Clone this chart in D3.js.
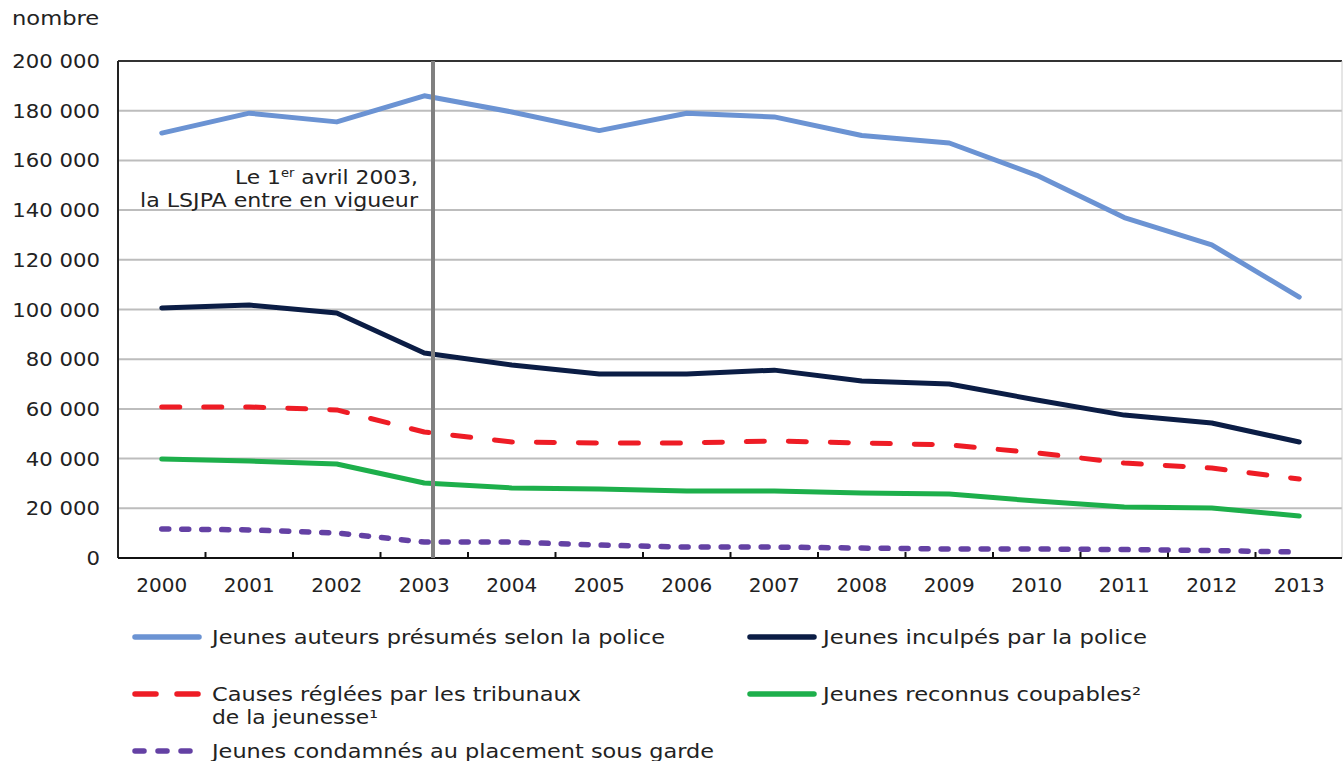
<!DOCTYPE html>
<html>
<head>
<meta charset="utf-8">
<script src="https://cdn.jsdelivr.net/npm/d3@7"></script>
<style>
  html, body { margin: 0; padding: 0; background: #fff; }
  svg { display: block; font-family: "DejaVu Sans", Verdana, sans-serif; }
</style>
</head>
<body>
<svg id="chart" width="1343" height="761"></svg>
<script>
const years = ["2000","2001","2002","2003","2004","2005","2006","2007","2008","2009","2010","2011","2012","2013"];
const yTicks = [0, 20000, 40000, 60000, 80000, 100000, 120000, 140000, 160000, 180000, 200000];

const auteurs   = [171000, 179000, 175500, 186000, 179500, 172000, 179000, 177500, 170000, 167000, 154000, 137000, 126000, 105000];
const inculpes  = [100600, 101800, 98600, 82500, 77700, 74000, 74000, 75600, 71200, 70000, 63600, 57500, 54300, 46700];
const causes    = [60800, 60800, 59600, 50700, 46700, 46300, 46300, 47100, 46300, 45500, 42300, 38200, 36200, 31800];
const coupables = [39800, 39000, 37800, 30200, 28200, 27800, 27000, 27000, 26200, 25800, 22900, 20500, 20100, 16900];
const condamnes = [11700, 11300, 10100, 6400, 6400, 5200, 4400, 4400, 4000, 3600, 3600, 3400, 3000, 2400];

const seriesNames = [
  "Jeunes auteurs présumés selon la police",
  "Jeunes inculpés par la police",
  "Causes réglées par les tribunaux|de la jeunesse¹",
  "Jeunes reconnus coupables²",
  "Jeunes condamnés au placement sous garde"
];
const lsjpaYear = 2003.1;
const annotation = ["Le 1er avril 2003,", "la LSJPA entre en vigueur"];

const series = [
  {name: seriesNames[0], values: auteurs,   color: "#6b93d3", width: 5, dash: null, cap: "round"},
  {name: seriesNames[1], values: inculpes,  color: "#0b1d45", width: 5, dash: null, cap: "round"},
  {name: seriesNames[2], values: causes,    color: "#ee1c25", width: 5, dash: "18,24", cap: "round"},
  {name: seriesNames[3], values: coupables, color: "#1daf4b", width: 5, dash: null, cap: "round"},
  {name: seriesNames[4], values: condamnes, color: "#6441a4", width: 5.5, dash: "7,13", cap: "round"}
];

const svg = d3.select("#chart");
const pL = 118, pR = 1343, pT = 61, pB = 558;

const x = d3.scaleBand().domain(years).range([pL, pR]).paddingInner(0).paddingOuter(0);
const bw = x.bandwidth();
const xc = d => x(d) + bw / 2;
const xNum = v => x("2000") + bw / 2 + (v - 2000) * bw;
const y = d3.scaleLinear().domain([0, 200000]).range([pB, pT]);

// gridlines
svg.append("g").selectAll("line").data(yTicks.filter(t => t > 0 && t < 200000)).join("line")
  .attr("x1", pL).attr("x2", 1342)
  .attr("y1", d => y(d)).attr("y2", d => y(d))
  .attr("stroke", "#bdbdbd").attr("stroke-width", 2);

// frame
svg.append("line").attr("x1", pL).attr("x2", 1342).attr("y1", pT).attr("y2", pT)
  .attr("stroke", "#333").attr("stroke-width", 2);
svg.append("line").attr("x1", pL).attr("x2", pL).attr("y1", pT).attr("y2", pB)
  .attr("stroke", "#222").attr("stroke-width", 2);
svg.append("line").attr("x1", 1342).attr("x2", 1342).attr("y1", pT).attr("y2", pB)
  .attr("stroke", "#ccc").attr("stroke-width", 1);

const stretch = (sel, k) => sel.each(function() {
  const w = this.getComputedTextLength();
  d3.select(this).attr("textLength", w * k).attr("lengthAdjust", "spacingAndGlyphs");
});

// y tick labels
const fmt = v => d3.format(",")(v).replace(/,/g, " ");
svg.append("g").selectAll("text").data(yTicks).join("text")
  .attr("x", 100).attr("y", d => y(d) + 7)
  .attr("text-anchor", "end")
  .attr("font-size", 20).attr("fill", "#222")
  .text(d => fmt(d))
  .call(stretch, 1.06);

svg.append("text").attr("x", 12).attr("y", 25).attr("font-size", 20).attr("fill", "#222")
  .text("nombre").call(stretch, 1.13);

// x axis
const xAxis = d3.axisBottom(x).tickSize(0).tickPadding(0);
const gx = svg.append("g").attr("transform", `translate(0,${pB})`).call(xAxis);
gx.select(".domain").remove();
gx.selectAll("text").attr("font-size", 20).attr("fill", "#222")
  .attr("font-family", "DejaVu Sans, Verdana, sans-serif").attr("dy", 0).attr("y", 34);
svg.append("line").attr("x1", pL).attr("x2", 1342).attr("y1", pB).attr("y2", pB)
  .attr("stroke", "#111").attr("stroke-width", 2);
svg.append("g").selectAll("line").data(years.slice(1)).join("line")
  .attr("x1", d => x(d)).attr("x2", d => x(d))
  .attr("y1", pB - 6).attr("y2", pB)
  .attr("stroke", "#111").attr("stroke-width", 2);

// annotation text
const a1 = svg.append("text").attr("x", 418).attr("y", 184).attr("text-anchor", "end")
  .attr("font-size", 20).attr("fill", "#222");
a1.append("tspan").text("Le 1");
a1.append("tspan").text("er").attr("font-size", 12).attr("dy", -7);
a1.append("tspan").text(" avril 2003,").attr("dy", 7);
a1.attr("textLength", 183).attr("lengthAdjust", "spacingAndGlyphs");
svg.append("text").attr("x", 418).attr("y", 207).attr("text-anchor", "end")
  .attr("font-size", 20).attr("fill", "#222").text(annotation[1])
  .attr("textLength", 278).attr("lengthAdjust", "spacingAndGlyphs");

// lines
const line = d3.line().x((d, i) => xc(years[i])).y(d => y(d));
series.forEach(s => {
  svg.append("path").datum(s.values)
    .attr("d", line)
    .attr("fill", "none")
    .attr("stroke", s.color)
    .attr("stroke-width", s.width)
    .attr("stroke-linejoin", "round")
    .attr("stroke-linecap", s.cap)
    .attr("stroke-dasharray", s.dash);
});

// vertical LSJPA line
svg.append("line").attr("x1", xNum(lsjpaYear)).attr("x2", xNum(lsjpaYear))
  .attr("y1", pT).attr("y2", pB)
  .attr("stroke", "#808080").attr("stroke-width", 4);

// legend
const legendPos = [
  {x: 133, y: 637, tx: 212, len: [453]},
  {x: 748, y: 637, tx: 823, len: [324]},
  {x: 133, y: 694, tx: 212, len: [369, 166]},
  {x: 748, y: 694, tx: 823, len: [318]},
  {x: 133, y: 751, tx: 212, len: [502]}
];
const legendDash = [null, null, "21,21", null, "9,14"];
series.forEach((s, i) => {
  const p = legendPos[i];
  svg.append("line").attr("x1", p.x + 2).attr("x2", p.x + 66)
    .attr("y1", p.y).attr("y2", p.y)
    .attr("stroke", s.color).attr("stroke-width", 5.5)
    .attr("stroke-linecap", "round")
    .attr("stroke-dasharray", legendDash[i]);
  const lines = s.name.split("|");
  lines.forEach((ln, j) => {
    svg.append("text").attr("x", p.tx).attr("y", p.y + 7 + j * 23)
      .attr("font-size", 19).attr("fill", "#222")
      .attr("textLength", p.len[j]).attr("lengthAdjust", "spacingAndGlyphs")
      .text(ln);
  });
});
</script>
</body>
</html>
